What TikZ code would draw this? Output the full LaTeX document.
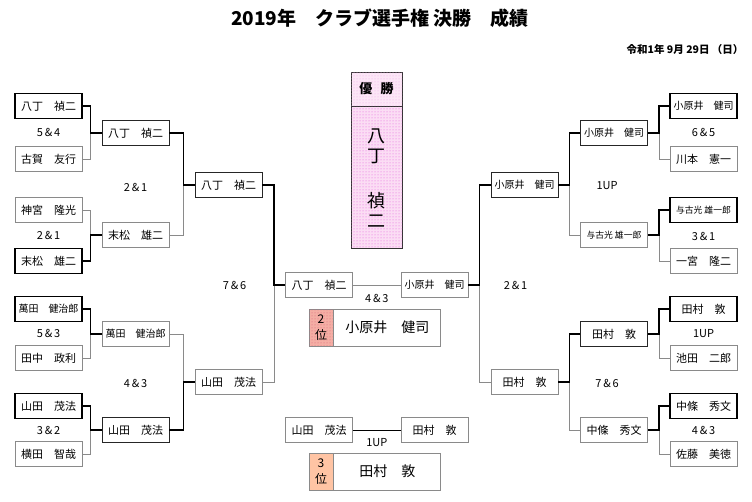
\documentclass[tikz,border=0pt]{standalone}
\usepackage{fontspec}
\setmainfont{Noto Sans CJK JP}
\usepackage{xcolor}
\usetikzlibrary{calc, positioning, patterns}
\definecolor{lossgray}{HTML}{8A8A8A}
\definecolor{champpink}{HTML}{FBDDF4}
\definecolor{champdot}{HTML}{E45ADC}
\definecolor{headpink}{HTML}{FCE6F6}
\definecolor{headdot}{HTML}{EFA6E8}
\definecolor{secondsalmon}{HTML}{F4AEA4}
\definecolor{seconddot}{HTML}{D8607A}
\definecolor{thirdpeach}{HTML}{FFC4A4}
\newcommand{\fsName}{\fontsize{11}{13}\selectfont}
\newcommand{\fsSmall}{\fontsize{10}{12}\selectfont}
\newcommand{\fsTiny}{\fontsize{8.8}{11}\selectfont}
\newcommand{\fsScore}{\fontsize{11}{13}\selectfont}
\tikzset{
  pbox/.style={draw=black!85, line width=0.9pt, fill=white, minimum width=67pt,
    minimum height=25pt, inner sep=0pt, font=\fsName},
  wbox/.style={pbox, draw=black, line width=1.6pt},
  lbox/.style={pbox, draw=lossgray},
  wline/.style={draw=black, line width=1.6pt},
  lline/.style={draw=lossgray, line width=0.9pt},
  score/.style={font=\fsScore, inner sep=1pt},
  rankbox/.style={draw=lossgray, line width=0.9pt, minimum width=24pt, minimum height=37pt,
    inner sep=0pt, align=center, font=\fontsize{12}{16}\selectfont},
  rankname/.style={draw=lossgray, line width=0.9pt, fill=white, minimum width=107pt,
    minimum height=37pt, inner sep=0pt, font=\fontsize{14}{16}\selectfont},
}
\begin{document}
\begin{tikzpicture}[x=1pt, y=-1pt]
  \useasboundingbox[fill=white] (0,0) rectangle (752,502);
  \def\Stub{11}
  \def\xLa{48.5}\def\xLb{135.5}\def\xLc{228.5}
  \def\xRa{703.5}\def\xRb{614}\def\xRc{524.5}
  % title
  \node[font=\fontsize{19}{22}\selectfont\bfseries] (title) at (380,18)
      {2019年　クラブ選手権 決勝　成績};
  \node[font=\fontsize{10.5}{12}\selectfont\bfseries, anchor=east] (date) at (747,50)
      {令和1年 9月 29日 （日）};
  % left half
  \node[wbox] (la1) at (\xLa,106) {八丁　禎二};
  \node[lbox] (la2) at (\xLa,159) {古賀　友行};
  \node[lbox] (la3) at (\xLa,210) {神宮　隆光};
  \node[wbox] (la4) at (\xLa,261) {末松　雄二};
  \node[wbox, font=\fsSmall] (la5) at (\xLa,309) {萬田　健治郎};
  \node[lbox] (la6) at (\xLa,358) {田中　政利};
  \node[wbox] (la7) at (\xLa,406) {山田　茂法};
  \node[lbox] (la8) at (\xLa,454) {横田　智哉};
  \node[pbox] (lb1) at (\xLb,133) {八丁　禎二};
  \node[lbox] (lb2) at (\xLb,235) {末松　雄二};
  \node[lbox, font=\fsSmall] (lb3) at (\xLb,334) {萬田　健治郎};
  \node[pbox] (lb4) at (\xLb,430) {山田　茂法};
  \node[pbox] (lc1) at (\xLc,185) {八丁　禎二};
  \node[lbox] (lc2) at (\xLc,382) {山田　茂法};
  % right half
  \node[wbox, font=\fsSmall] (ra1) at (\xRa,106) {小原井　健司};
  \node[lbox] (ra2) at (\xRa,159) {川本　憲一};
  \node[wbox, font=\fsTiny] (ra3) at (\xRa,210) {与古光 雄一郎};
  \node[lbox] (ra4) at (\xRa,261) {一宮　隆二};
  \node[wbox] (ra5) at (\xRa,309) {田村　敦};
  \node[lbox] (ra6) at (\xRa,358) {池田　二郎};
  \node[wbox] (ra7) at (\xRa,406) {中條　秀文};
  \node[lbox] (ra8) at (\xRa,454) {佐藤　美徳};
  \node[pbox, font=\fsSmall] (rb1) at (\xRb,133) {小原井　健司};
  \node[lbox, font=\fsTiny] (rb2) at (\xRb,235) {与古光 雄一郎};
  \node[pbox] (rb3) at (\xRb,334) {田村　敦};
  \node[lbox] (rb4) at (\xRb,430) {中條　秀文};
  \node[pbox, font=\fsSmall] (rc1) at (\xRc,185) {小原井　健司};
  \node[lbox] (rc2) at (\xRc,382) {田村　敦};
  % final and 3rd place match
  \node[lbox] (fl) at (319,285) {八丁　禎二};
  \node[lbox, font=\fsSmall] (fr) at (434.5,285) {小原井　健司};
  \node[lbox] (tl) at (319,430) {山田　茂法};
  \node[lbox] (tr) at (434.5,430) {田村　敦};
  \draw[lline] (fl) -- (fr);
  \draw[black, line width=0.9pt] (tl) -- (tr);
  \node[score] (sf) at ($(fl)!0.5!(fr)+(0,13)$) {4\,\&\,3};
  \node[score] (st) at ($(tl)!0.5!(tr)+(0,13)$) {1UP};
  % brackets
  \newcommand{\joinL}[3]{%
    \draw[lline] (#2.east) -| ($(#3.west)+(-\Stub,0)$);
    \draw[wline] (#1.east) -| ($(#3.west)+(-\Stub,0)$) -- (#3.west);
  }
  \newcommand{\joinR}[3]{%
    \draw[lline] (#2.west) -| ($(#3.east)+(\Stub,0)$);
    \draw[wline] (#1.west) -| ($(#3.east)+(\Stub,0)$) -- (#3.east);
  }
  \joinL{la1}{la2}{lb1}\joinL{la4}{la3}{lb2}
  \joinL{la5}{la6}{lb3}\joinL{la7}{la8}{lb4}
  \joinL{lb1}{lb2}{lc1}\joinL{lb4}{lb3}{lc2}
  \joinL{lc1}{lc2}{fl}
  \joinR{ra1}{ra2}{rb1}\joinR{ra3}{ra4}{rb2}
  \joinR{ra5}{ra6}{rb3}\joinR{ra7}{ra8}{rb4}
  \joinR{rb1}{rb2}{rc1}\joinR{rb3}{rb4}{rc2}
  \joinR{rc1}{rc2}{fr}
  % scores
  \node[score] (sl1) at ($(la1)!0.5!(la2)$) {5\,\&\,4};
  \node[score] (sl2) at ($(la3)!0.5!(la4)$) {2\,\&\,1};
  \node[score] (sl3) at ($(la5)!0.5!(la6)$) {5\,\&\,3};
  \node[score] (sl4) at ($(la7)!0.5!(la8)$) {3\,\&\,2};
  \node[score] (sl5) at ($(lb1)!0.5!(lb2)+(0,3)$) {2\,\&\,1};
  \node[score] (sl6) at ($(lb3)!0.5!(lb4)+(0,1)$) {4\,\&\,3};
  \node[score] (sl7) at ($(lc1)!0.5!(lc2)+(6,2)$) {7\,\&\,6};
  \node[score] (sr1) at ($(ra1)!0.5!(ra2)$) {6\,\&\,5};
  \node[score] (sr2) at ($(ra3)!0.5!(ra4)+(0,1)$) {3\,\&\,1};
  \node[score] (sr3) at ($(ra5)!0.5!(ra6)$) {1UP};
  \node[score] (sr4) at ($(ra7)!0.5!(ra8)$) {4\,\&\,3};
  \node[score] (sr5) at ($(rb1)!0.5!(rb2)+(-7,2)$) {1UP};
  \node[score] (sr6) at ($(rb3)!0.5!(rb4)+(-7,1)$) {7\,\&\,6};
  \node[score] (sr7) at ($(rc1)!0.5!(rc2)+(-9,2)$) {2\,\&\,1};
  % champion
  \node[draw=black!80, line width=0.9pt, fill=headpink,
        postaction={pattern=dots, pattern color=headdot},
        minimum width=51pt, minimum height=34pt, inner sep=0pt,
        font=\fontsize{13}{15}\selectfont\bfseries] (champ) at (376.5,89) {優\hspace{0.65em}勝};
  \node[draw=black!80, line width=0.9pt, fill=champpink,
        postaction={pattern=dots, pattern color=champdot},
        minimum width=51pt, minimum height=142pt, inner sep=0pt, align=center,
        font=\fontsize{18}{20}\selectfont, below=0pt of champ] (champname)
        {八\\丁\\[25pt]禎\\二};
  % 2nd and 3rd place
  \node[rankbox, fill=secondsalmon, postaction={pattern=dots, pattern color=seconddot}]
      (rank2) at (321,327.5) {2\\位};
  \node[rankname, right=0pt of rank2] (name2) {小原井　健司};
  \node[rankbox, fill=thirdpeach] (rank3) at (321,471.5) {3\\位};
  \node[rankname, right=0pt of rank3] (name3) {田村　敦};
\end{tikzpicture}
\end{document}
